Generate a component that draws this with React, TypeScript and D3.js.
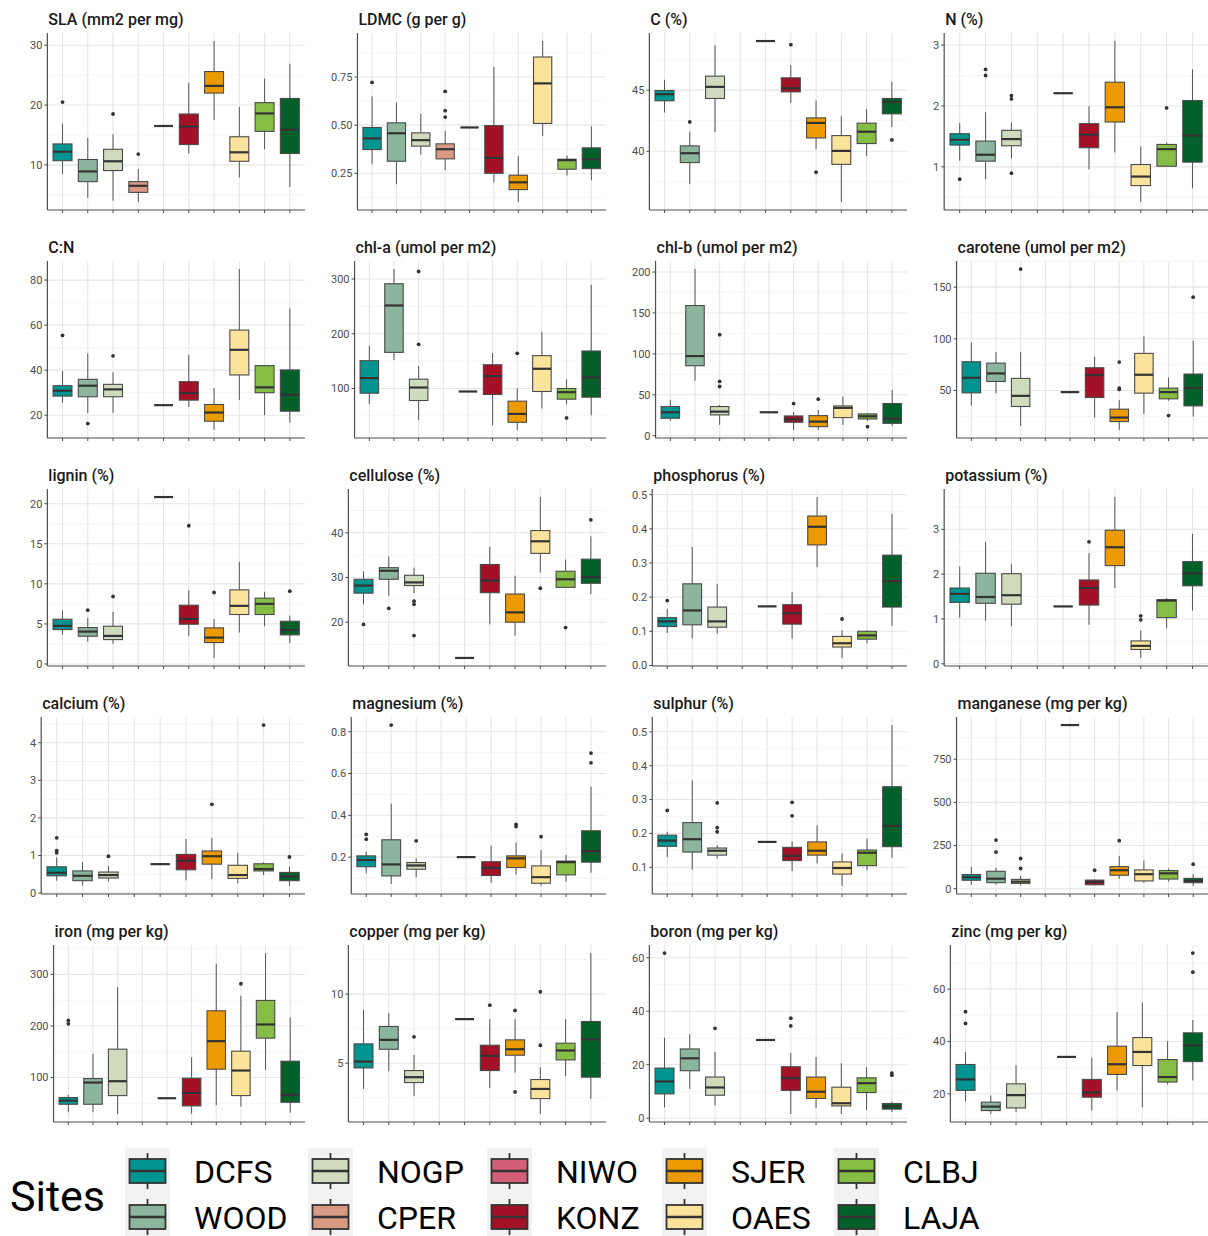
import React from "react";
import * as d3 from "d3";

// Sites along the x axis of every panel, and their fill colours
const sites = ["DCFS", "WOOD", "NOGP", "CPER", "NIWO", "KONZ", "SJER", "OAES", "CLBJ", "LAJA"];
const siteColors = ["#009491", "#8bb59c", "#d0dabd", "#d99a83", "#d55e78", "#a31126", "#eb9b00", "#fce39b", "#86bd45", "#03602b"];

// Box summaries: [site, lower whisker, Q1, median, Q3, upper whisker, outliers]
type Stat = [string, number, number, number, number, number, number[]];

const slaStats: Stat[] = [
  ["DCFS", 8.5, 10.7, 12.2, 13.5, 16.9, [20.5]],
  ["WOOD", 4.5, 7.2, 8.9, 10.9, 14.5, []],
  ["NOGP", 4.0, 9.05, 10.6, 12.6, 15.1, [18.5]],
  ["CPER", 3.8, 5.4, 6.5, 7.2, 9.3, [11.8]],
  ["NIWO", 16.5, 16.5, 16.5, 16.5, 16.5, []],
  ["KONZ", 11.9, 13.4, 16.4, 18.5, 23.7, []],
  ["SJER", 17.5, 22.0, 23.2, 25.6, 30.7, []],
  ["OAES", 7.9, 10.6, 12.1, 14.7, 19.7, []],
  ["CLBJ", 12.6, 15.6, 18.6, 20.4, 24.4, []],
  ["LAJA", 6.3, 11.9, 15.9, 21.1, 26.9, []],
];
const ldmcStats: Stat[] = [
  ["DCFS", 0.297, 0.373, 0.431, 0.488, 0.649, [0.722]],
  ["WOOD", 0.193, 0.3125, 0.458, 0.512, 0.618, []],
  ["NOGP", 0.347, 0.391, 0.422, 0.46, 0.559, []],
  ["CPER", 0.267, 0.325, 0.375, 0.403, 0.47, [0.675, 0.575, 0.542]],
  ["NIWO", 0.488, 0.488, 0.488, 0.488, 0.488, []],
  ["KONZ", 0.203, 0.25, 0.33, 0.498, 0.802, []],
  ["SJER", 0.101, 0.165, 0.203, 0.24, 0.34, []],
  ["OAES", 0.444, 0.509, 0.717, 0.854, 0.937, []],
  ["CLBJ", 0.238, 0.271, 0.318, 0.323, 0.342, []],
  ["LAJA", 0.214, 0.274, 0.323, 0.382, 0.493, []],
];
const carbonStats: Stat[] = [
  ["DCFS", 43.17, 44.13, 44.67, 44.97, 45.85, []],
  ["WOOD", 37.32, 39.07, 39.84, 40.44, 41.6, [42.4]],
  ["NOGP", 41.56, 44.32, 45.27, 46.15, 48.66, []],
  ["NIWO", 49.02, 49.02, 49.02, 49.02, 49.02, []],
  ["KONZ", 43.96, 44.86, 45.16, 46.01, 47.05, [48.72]],
  ["SJER", 40.16, 41.09, 42.32, 42.73, 44.15, [38.28]],
  ["OAES", 35.85, 38.93, 40.03, 41.28, 42.9, []],
  ["CLBJ", 39.6, 40.63, 41.6, 42.3, 43.44, []],
  ["LAJA", 41.97, 43.06, 44.04, 44.32, 45.68, [40.93]],
];
const nitrogenStats: Stat[] = [
  ["DCFS", 1.1, 1.357, 1.445, 1.544, 1.72, [0.797]],
  ["WOOD", 0.797, 1.093, 1.198, 1.423, 1.896, [2.6, 2.5]],
  ["NOGP", 1.137, 1.346, 1.456, 1.6, 1.73, [2.17, 2.115, 0.896]],
  ["NIWO", 2.209, 2.209, 2.209, 2.209, 2.209, []],
  ["KONZ", 0.96, 1.313, 1.527, 1.709, 1.995, []],
  ["SJER", 1.236, 1.736, 1.978, 2.39, 3.066, []],
  ["OAES", 0.423, 0.692, 0.84, 1.038, 1.335, []],
  ["CLBJ", 1.0, 1.01, 1.29, 1.368, 1.4, [1.967]],
  ["LAJA", 0.648, 1.077, 1.516, 2.088, 2.6, []],
];
const cnStats: Stat[] = [
  ["DCFS", 25.5, 28.49, 30.87, 33.1, 39.65, [55.44]],
  ["WOOD", 21.0, 28.2, 33.1, 35.93, 47.4, [16.3]],
  ["NOGP", 21.04, 28.2, 31.47, 33.7, 39.06, [46.35]],
  ["NIWO", 24.47, 24.47, 24.47, 24.47, 24.47, []],
  ["KONZ", 23.57, 26.7, 29.83, 34.9, 46.8, []],
  ["SJER", 13.45, 17.32, 21.19, 24.76, 32.06, []],
  ["OAES", 26.7, 37.87, 49.03, 57.8, 84.9, []],
  ["CLBJ", 20.0, 29.98, 32.36, 42.0, 42.1, []],
  ["LAJA", 16.72, 21.79, 29.08, 40.1, 67.35, []],
];
const chlaStats: Stat[] = [
  ["DCFS", 71.3, 91.4, 119, 150.8, 178.3, []],
  ["WOOD", 152, 166, 251.7, 291.4, 318.3, []],
  ["NOGP", 41.9, 78, 101.8, 117, 141, [314, 180.7]],
  ["NIWO", 94.5, 94.5, 94.5, 94.5, 94.5, []],
  ["KONZ", 32.7, 89, 122.6, 143.4, 164.8, []],
  ["SJER", 24.2, 38.2, 53.5, 76.8, 100, [164.2]],
  ["OAES", 63.3, 94.5, 136, 160, 203.4, []],
  ["CLBJ", 71, 80.4, 93.3, 100, 116.5, [46.2]],
  ["LAJA", 51, 84.1, 120.2, 168.5, 289.6, []],
];
const chlbStats: Stat[] = [
  ["DCFS", 18, 21.3, 28.6, 35.6, 43.8, []],
  ["WOOD", 67, 85.5, 97.3, 159.1, 203.7, []],
  ["NOGP", 13.1, 25.4, 29.4, 35.6, 37.6, [123.5, 66.3, 60.1]],
  ["NIWO", 28.6, 28.6, 28.6, 28.6, 28.6, []],
  ["KONZ", 7, 16.4, 20, 24.1, 29, [39.3]],
  ["SJER", 7, 11, 17.2, 24.5, 31.5, [44.6]],
  ["OAES", 13.1, 22.1, 34, 36.4, 47.9, []],
  ["CLBJ", 18, 20.4, 23.7, 26.6, 27.4, [11]],
  ["LAJA", 11.9, 15.1, 20.9, 39.3, 56, []],
];
const caroteneStats: Stat[] = [
  ["DCFS", 35.4, 47.7, 62.3, 77.8, 96.6, []],
  ["WOOD", 47.4, 58.7, 66.5, 76.5, 87.2, []],
  ["NOGP", 15.7, 34.5, 44.8, 61.7, 87.2, [167.5]],
  ["NIWO", 48.4, 48.4, 48.4, 48.4, 48.4, []],
  ["KONZ", 23.8, 43.2, 64.9, 72, 82.7, []],
  ["SJER", 11.8, 19.9, 23.8, 31.9, 40.6, [77.5, 52.3, 51]],
  ["OAES", 27.3, 47.4, 65.2, 85.9, 102.4, []],
  ["CLBJ", 40, 41.9, 48.4, 52.3, 62.6, [25.7]],
  ["LAJA", 24.8, 35.1, 52.3, 65.9, 98.2, [140.3]],
];
const ligninStats: Stat[] = [
  ["DCFS", 3.63, 4.29, 4.75, 5.58, 6.67, []],
  ["WOOD", 2.79, 3.46, 4.04, 4.54, 5.75, [6.71]],
  ["NOGP", 2.5, 3.04, 3.5, 4.71, 6.5, [8.42]],
  ["NIWO", 20.83, 20.83, 20.83, 20.83, 20.83, []],
  ["KONZ", 3.46, 4.96, 5.63, 7.33, 9.17, [17.25]],
  ["SJER", 0.75, 2.67, 3.29, 4.5, 5.63, [8.92]],
  ["OAES", 3.92, 6.17, 7.25, 9.25, 12.75, []],
  ["CLBJ", 4.71, 6.17, 7.5, 8.21, 9.0, []],
  ["LAJA", 2.58, 3.63, 4.25, 5.33, 6.04, [9.08]],
];
const celluloseStats: Stat[] = [
  ["DCFS", 24.0, 26.5, 28.2, 29.6, 31.4, [19.5]],
  ["WOOD", 25.9, 29.6, 31.5, 32.2, 34.7, [23.1]],
  ["NOGP", 26.5, 28.2, 28.9, 30.5, 32.2, [24.7, 24.0, 17.0]],
  ["NIWO", 12.0, 12.0, 12.0, 12.0, 12.0, []],
  ["KONZ", 19.5, 26.6, 29.3, 32.9, 36.9, []],
  ["SJER", 17.0, 20.0, 22.2, 26.3, 30.4, []],
  ["OAES", 31.1, 35.4, 38.1, 40.5, 48.0, [27.6]],
  ["CLBJ", 27.6, 27.8, 29.6, 31.4, 34.0, [18.8]],
  ["LAJA", 26.3, 28.7, 30.1, 34.1, 39.2, [42.9]],
];
const phosphorusStats: Stat[] = [
  ["DCFS", 0.095, 0.114, 0.129, 0.14, 0.165, [0.19]],
  ["WOOD", 0.079, 0.119, 0.161, 0.239, 0.347, []],
  ["NOGP", 0.093, 0.112, 0.129, 0.171, 0.239, []],
  ["NIWO", 0.173, 0.173, 0.173, 0.173, 0.173, []],
  ["KONZ", 0.079, 0.121, 0.153, 0.178, 0.215, []],
  ["SJER", 0.288, 0.353, 0.406, 0.4375, 0.493, []],
  ["OAES", 0.022, 0.054, 0.065, 0.085, 0.103, [0.136]],
  ["CLBJ", 0.065, 0.077, 0.088, 0.1, 0.103, []],
  ["LAJA", 0.116, 0.171, 0.247, 0.323, 0.444, []],
];
const potassiumStats: Stat[] = [
  ["DCFS", 1.03, 1.37, 1.56, 1.69, 2.17, []],
  ["WOOD", 0.96, 1.35, 1.49, 2.02, 2.72, []],
  ["NOGP", 0.84, 1.33, 1.53, 2.01, 2.22, []],
  ["NIWO", 1.28, 1.28, 1.28, 1.28, 1.28, []],
  ["KONZ", 0.87, 1.31, 1.69, 1.87, 2.47, [2.72]],
  ["SJER", 1.69, 2.19, 2.6, 2.98, 3.72, []],
  ["OAES", 0.13, 0.32, 0.4, 0.51, 0.74, [1.07, 0.98]],
  ["CLBJ", 0.79, 1.03, 1.41, 1.43, 1.47, []],
  ["LAJA", 1.19, 1.74, 2.02, 2.28, 2.9, []],
];
const calciumStats: Stat[] = [
  ["DCFS", 0.33, 0.46, 0.54, 0.7, 0.95, [1.47, 1.13, 1.07]],
  ["WOOD", 0.2, 0.33, 0.46, 0.59, 0.82, []],
  ["NOGP", 0.31, 0.4, 0.48, 0.56, 0.72, [0.98]],
  ["NIWO", 0.77, 0.77, 0.77, 0.77, 0.77, []],
  ["KONZ", 0.34, 0.62, 0.86, 1.03, 1.44, []],
  ["SJER", 0.37, 0.77, 0.98, 1.12, 1.47, [2.36]],
  ["OAES", 0.26, 0.39, 0.48, 0.74, 1.07, []],
  ["CLBJ", 0.48, 0.59, 0.64, 0.78, 0.82, [4.47]],
  ["LAJA", 0.19, 0.33, 0.44, 0.55, 0.7, [0.96]],
];
const magnesiumStats: Stat[] = [
  ["DCFS", 0.122, 0.154, 0.186, 0.206, 0.226, [0.309, 0.286]],
  ["WOOD", 0.072, 0.11, 0.165, 0.283, 0.456, [0.832]],
  ["NOGP", 0.104, 0.142, 0.16, 0.174, 0.194, [0.278]],
  ["NIWO", 0.2, 0.2, 0.2, 0.2, 0.2, []],
  ["KONZ", 0.078, 0.112, 0.149, 0.178, 0.254, []],
  ["SJER", 0.117, 0.15, 0.194, 0.206, 0.27, [0.357, 0.346]],
  ["OAES", 0.062, 0.075, 0.104, 0.158, 0.234, [0.298]],
  ["CLBJ", 0.082, 0.115, 0.176, 0.181, 0.21, []],
  ["LAJA", 0.125, 0.176, 0.229, 0.326, 0.536, [0.698, 0.651]],
];
const sulphurStats: Stat[] = [
  ["DCFS", 0.13, 0.162, 0.179, 0.195, 0.205, [0.268]],
  ["WOOD", 0.093, 0.145, 0.183, 0.232, 0.357, []],
  ["NOGP", 0.126, 0.136, 0.149, 0.157, 0.165, [0.29, 0.217, 0.205]],
  ["NIWO", 0.175, 0.175, 0.175, 0.175, 0.175, []],
  ["KONZ", 0.089, 0.12, 0.134, 0.159, 0.177, [0.292, 0.252]],
  ["SJER", 0.112, 0.136, 0.149, 0.175, 0.224, []],
  ["OAES", 0.045, 0.08, 0.098, 0.116, 0.141, []],
  ["CLBJ", 0.091, 0.105, 0.143, 0.151, 0.185, []],
  ["LAJA", 0.128, 0.161, 0.222, 0.338, 0.52, []],
];
const manganeseStats: Stat[] = [
  ["DCFS", 23, 49, 66, 82, 126, []],
  ["WOOD", 25, 35, 58, 101, 122, [282, 212]],
  ["NOGP", 19, 31, 41, 54, 74, [175, 117]],
  ["NIWO", 948, 948, 948, 948, 948, []],
  ["KONZ", 19, 23, 39, 50, 54, [107]],
  ["SJER", 58, 78, 107, 128, 190, [278]],
  ["OAES", 35, 45, 84, 109, 163, []],
  ["CLBJ", 43, 56, 89, 105, 117, []],
  ["LAJA", 16, 35, 45, 60, 84, [142]],
];
const ironStats: Stat[] = [
  ["DCFS", 32.7, 48.2, 55.3, 61.2, 66.3, [210.7, 204.2]],
  ["WOOD", 32.7, 48.2, 90.3, 98, 146, []],
  ["NOGP", 29.4, 65, 92.9, 155, 275.4, []],
  ["NIWO", 59.9, 59.9, 59.9, 59.9, 59.9, []],
  ["KONZ", 30.1, 45, 70.2, 98.7, 139.5, []],
  ["SJER", 46.3, 116.2, 170.6, 229.4, 320.7, []],
  ["OAES", 43.7, 65, 113.6, 151.1, 258.6, [281.9]],
  ["CLBJ", 114.9, 176.4, 202.9, 249.5, 341.4, []],
  ["LAJA", 32, 52.1, 66.3, 131.7, 216.5, []],
];
const copperStats: Stat[] = [
  ["DCFS", 3.14, 4.66, 5.12, 6.4, 8.86, []],
  ["WOOD", 4.42, 6.01, 6.69, 7.66, 8.62, []],
  ["NOGP", 2.63, 3.6, 3.99, 4.47, 5.6, [6.91]],
  ["NIWO", 8.19, 8.19, 8.19, 8.19, 8.19, []],
  ["KONZ", 3.21, 4.47, 5.53, 6.3, 8.19, [9.2]],
  ["SJER", 4.32, 5.58, 6.01, 6.69, 8.19, [8.82, 2.92]],
  ["OAES", 1.33, 2.44, 3.14, 3.82, 4.71, [10.17, 6.3]],
  ["CLBJ", 4.08, 5.24, 5.92, 6.45, 8.19, []],
  ["LAJA", 2.44, 3.99, 6.74, 8.02, 12.97, []],
];
const boronStats: Stat[] = [
  ["DCFS", 4.1, 9.1, 13.75, 18.75, 30.1, [61.75]],
  ["WOOD", 11, 17.75, 22.4, 25.9, 31.4, []],
  ["NOGP", 4.75, 8.6, 11.5, 15.4, 24.75, [33.6]],
  ["NIWO", 29.25, 29.25, 29.25, 29.25, 29.25, []],
  ["KONZ", 1.6, 10.4, 15, 19.25, 24.4, [37.4, 34.5]],
  ["SJER", 3.75, 7.4, 9.9, 15.4, 22.9, []],
  ["OAES", 1.6, 4.6, 5.6, 11.6, 20.6, []],
  ["CLBJ", 3.1, 9.6, 13.1, 15.1, 19.1, []],
  ["LAJA", 2.4, 3.4, 4.4, 5.5, 6.25, [16.1, 16.9]],
];
const zincStats: Stat[] = [
  ["DCFS", 17.2, 21.3, 25.5, 31.2, 36, [51.4, 46.9]],
  ["WOOD", 12.3, 13.6, 15.1, 16.8, 19.4, []],
  ["NOGP", 13.1, 14.6, 19.5, 23.8, 30.9, []],
  ["NIWO", 34.1, 34.1, 34.1, 34.1, 34.1, []],
  ["KONZ", 13.6, 18.7, 20.5, 25.5, 33.8, []],
  ["SJER", 21.3, 27.4, 31.3, 38.2, 51.2, []],
  ["OAES", 14.9, 30.8, 36, 41.5, 54.9, []],
  ["CLBJ", 23.6, 24.5, 26.4, 33.1, 40.1, []],
  ["LAJA", 25.1, 32.3, 38.5, 43.3, 48.2, [73.8, 66.5]],
];

// Panel titles, y-axis breaks and summaries, in reading order
const traitTitles = [
  "SLA (mm2 per mg)", "LDMC (g per g)", "C (%)", "N (%)",
  "C:N", "chl-a (umol per m2)", "chl-b (umol per m2)", "carotene (umol per m2)",
  "lignin (%)", "cellulose (%)", "phosphorus (%)", "potassium (%)",
  "calcium (%)", "magnesium (%)", "sulphur (%)", "manganese (mg per kg)",
  "iron (mg per kg)", "copper (mg per kg)", "boron (mg per kg)", "zinc (mg per kg)",
];
const traitTicks = [
  [10, 20, 30], [0.25, 0.5, 0.75], [40, 45], [1, 2, 3],
  [20, 40, 60, 80], [100, 200, 300], [0, 50, 100, 150, 200], [50, 100, 150],
  [0, 5, 10, 15, 20], [20, 30, 40], [0, 0.1, 0.2, 0.3, 0.4, 0.5], [0, 1, 2, 3],
  [0, 1, 2, 3, 4], [0.2, 0.4, 0.6, 0.8], [0.1, 0.2, 0.3, 0.4, 0.5], [0, 250, 500, 750],
  [100, 200, 300], [5, 10], [0, 20, 40, 60], [20, 40, 60],
];
const traitStats = [
  slaStats, ldmcStats, carbonStats, nitrogenStats,
  cnStats, chlaStats, chlbStats, caroteneStats,
  ligninStats, celluloseStats, phosphorusStats, potassiumStats,
  calciumStats, magnesiumStats, sulphurStats, manganeseStats,
  ironStats, copperStats, boronStats, zincStats,
];

const legendTitle = "Sites";

// ---- layout ----
const W = 1208;
const H = 1236;
const FONT = "Roboto, 'Noto Sans', 'DejaVu Sans', sans-serif";
const TICK_SIZE = 11;
const colStarts = [0, 301, 602, 903];
const rowHeight = 228;
const legendColX = [125, 308, 487, 662, 834];
const legendRowY = [1171, 1217];

let measureCtx: CanvasRenderingContext2D | null = null;
function textWidth(s: string, font: string): number {
  if (!measureCtx) measureCtx = document.createElement("canvas").getContext("2d");
  if (!measureCtx) return s.length * 6;
  measureCtx.font = font;
  return measureCtx.measureText(s).width;
}

function decimals(v: number): number {
  const s = String(v);
  const i = s.indexOf(".");
  return i < 0 ? 0 : s.length - i - 1;
}

function Panel({ idx }: { idx: number }) {
  const col = idx % 4;
  const row = Math.floor(idx / 4);
  const colStart = colStarts[col];
  const rowStart = row * rowHeight;
  const ticks = traitTicks[idx];
  const stats = traitStats[idx];

  const dec = d3.max(ticks, decimals) ?? 0;
  const fmt = d3.format(`.${dec}f`);
  const labels = ticks.map((t) => fmt(t));
  const labelW = d3.max(labels, (l) => textWidth(l, `${TICK_SIZE}px ${FONT}`)) ?? 10;

  const left = Math.min(colStart + 30 + labelW + 5, colStart + 60);
  const right = colStart + 305;
  const top = rowStart + 33;
  const bottom = rowStart + 210;

  const values = stats.flatMap((s) => [s[1], s[5], ...s[6]]);
  const lo = d3.min(values) as number;
  const hi = d3.max(values) as number;
  const pad = (hi - lo) * 0.05;
  const y = d3.scaleLinear().domain([lo - pad, hi + pad]).range([bottom, top]);
  const x = d3.scalePoint<string>().domain(sites).range([left, right]).padding(0.6);
  const boxW = x.step() * 0.75;

  const step = ticks[1] - ticks[0];
  const minor: number[] = [];
  for (let t = ticks[0] - step / 2; t <= hi + pad; t += step) {
    if (t >= lo - pad) minor.push(t);
  }

  return (
    <g>
      {/* grid */}
      {minor.map((t, i) => (
        <line key={`mi${i}`} x1={left} x2={right} y1={y(t)} y2={y(t)} stroke="#f2f2f2" strokeWidth={0.8} />
      ))}
      {ticks.map((t, i) => (
        <line key={`mj${i}`} x1={left} x2={right} y1={y(t)} y2={y(t)} stroke="#e6e6e6" strokeWidth={1.1} />
      ))}
      {sites.map((s) => (
        <line key={`vx${s}`} x1={x(s)} x2={x(s)} y1={top} y2={bottom} stroke="#e6e6e6" strokeWidth={1.1} />
      ))}

      {/* boxes */}
      {stats.map((s) => {
        const [site, wLo, q1, med, q3, wHi, outl] = s;
        const cx = x(site) as number;
        const color = siteColors[sites.indexOf(site)];
        return (
          <g key={site}>
            <line x1={cx} x2={cx} y1={y(wHi)} y2={y(q3)} stroke="#555" strokeWidth={1} />
            <line x1={cx} x2={cx} y1={y(q1)} y2={y(wLo)} stroke="#555" strokeWidth={1} />
            <rect
              x={cx - boxW / 2}
              y={y(q3)}
              width={boxW}
              height={Math.max(0, y(q1) - y(q3))}
              fill={color}
              stroke="#4a4a4a"
              strokeWidth={1.1}
            />
            <line x1={cx - boxW / 2} x2={cx + boxW / 2} y1={y(med)} y2={y(med)} stroke="#333" strokeWidth={2.2} />
            {outl.map((o, k) => (
              <circle key={k} cx={cx} cy={y(o)} r={1.9} fill="#333" />
            ))}
          </g>
        );
      })}

      {/* axes */}
      <line x1={left} x2={left} y1={top} y2={bottom} stroke="#4d4d4d" strokeWidth={1.2} />
      <line x1={left} x2={right} y1={bottom} y2={bottom} stroke="#4d4d4d" strokeWidth={1.2} />
      {ticks.map((t, i) => (
        <g key={`yt${i}`}>
          <line x1={left - 3} x2={left} y1={y(t)} y2={y(t)} stroke="#4d4d4d" strokeWidth={1} />
          <text
            x={left - 5}
            y={y(t)}
            dy="0.35em"
            textAnchor="end"
            fontSize={TICK_SIZE}
            fill="#4d4d4d"
            fontFamily={FONT}
          >
            {labels[i]}
          </text>
        </g>
      ))}
      {sites.map((s) => (
        <line key={`xt${s}`} x1={x(s)} x2={x(s)} y1={bottom} y2={bottom + 3} stroke="#4d4d4d" strokeWidth={1} />
      ))}

      {/* title */}
      <text x={left + 1} y={rowStart + 25} fontSize={16} fontWeight={500} fill="#1a1a1a" fontFamily={FONT}>
        {traitTitles[idx]}
      </text>
    </g>
  );
}

function Legend() {
  return (
    <g>
      <text x={10} y={1196} dy="0.35em" fontSize={43} fill="#000" fontFamily={FONT}>
        {legendTitle}
      </text>
      {sites.map((s, i) => {
        const c = Math.floor(i / 2);
        const r = i % 2;
        const kx = legendColX[c];
        const cy = legendRowY[r];
        return (
          <g key={s}>
            <rect x={kx} y={cy - 23} width={45} height={46} fill="#f2f2f2" />
            <line x1={kx + 22.5} x2={kx + 22.5} y1={cy - 18} y2={cy + 18} stroke="#333" strokeWidth={1.8} />
            <rect x={kx + 4.5} y={cy - 12} width={36} height={24} fill={siteColors[i]} stroke="#333" strokeWidth={1.8} />
            <line x1={kx + 4.5} x2={kx + 40.5} y1={cy} y2={cy} stroke="#333" strokeWidth={2.6} />
            <text x={kx + 69} y={cy} dy="0.36em" fontSize={32} fill="#000" fontFamily={FONT}>
              {s}
            </text>
          </g>
        );
      })}
    </g>
  );
}

export default function App() {
  return (
    <svg
      width={W}
      height={H}
      viewBox={`0 0 ${W} ${H}`}
      style={{ position: "absolute", left: 0, top: 0, display: "block", background: "#fff" }}
    >
      <rect width={W} height={H} fill="#fff" />
      {traitTitles.map((_, i) => (
        <Panel key={i} idx={i} />
      ))}
      <Legend />
    </svg>
  );
}
